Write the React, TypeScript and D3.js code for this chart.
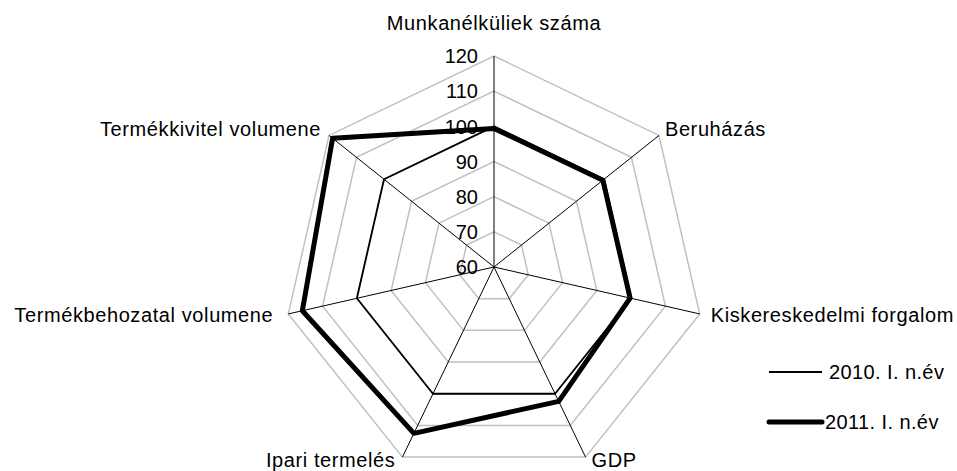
import React, { useEffect, useRef } from "react";
import * as d3 from "d3";

// axis names, clockwise from the top
const categories = [
  "Munkanélküliek száma",
  "Beruházás",
  "Kiskereskedelmi forgalom",
  "GDP",
  "Ipari termelés",
  "Termékbehozatal volumene",
  "Termékkivitel volumene",
];

const values2010 = [100, 100, 100, 100, 100, 100, 100];
const values2011 = [99.4, 99.6, 99.7, 102.4, 112.5, 115.9, 118.7];

const ticks = [60, 70, 80, 90, 100, 110, 120];

const seriesNames = ["2010. I. n.év", "2011. I. n.év"];

const App = () => {
  const ref = useRef<SVGSVGElement>(null);

  useEffect(() => {
    const width = 957;
    const height = 471;
    const cx = 494;
    const cy = 267;
    const radius = 211;
    const font = "'Liberation Sans', Arial, sans-serif";

    const svg = d3.select(ref.current);
    svg.selectAll("*").remove();
    svg.attr("width", width).attr("height", height);

    const g = svg.append("g").attr("transform", "translate(" + cx + "," + cy + ")");

    const r = d3.scaleLinear().domain([60, 120]).range([0, radius]);
    const angle = (i: number) => (i * 2 * Math.PI) / categories.length;

    // grid rings
    const ring = d3
      .lineRadial<number>()
      .angle((_, i) => angle(i))
      .radius((d) => r(d))
      .curve(d3.curveLinearClosed);

    g.selectAll("path.ring")
      .data(ticks.slice(1))
      .enter()
      .append("path")
      .attr("class", "ring")
      .attr("d", (t) => ring(categories.map(() => t)))
      .attr("fill", "none")
      .attr("stroke", "#c0c0c0")
      .attr("stroke-width", 1.5);

    // spokes
    g.selectAll("line.spoke")
      .data(categories)
      .enter()
      .append("line")
      .attr("x1", 0)
      .attr("y1", 0)
      .attr("x2", (_, i) => Math.sin(angle(i)) * r(120))
      .attr("y2", (_, i) => -Math.cos(angle(i)) * r(120))
      .attr("stroke", "#000")
      .attr("stroke-width", 1);

    // tick labels
    g.selectAll("text.tick")
      .data(ticks)
      .enter()
      .append("text")
      .attr("x", -16)
      .attr("y", (t) => -r(t))
      .attr("dy", "0.36em")
      .attr("text-anchor", "end")
      .style("font-family", font)
      .style("font-size", "20px")
      .text((t) => t);

    // series
    const line = d3
      .lineRadial<number>()
      .angle((_, i) => angle(i))
      .radius((d) => r(d))
      .curve(d3.curveLinearClosed);

    g.append("path")
      .attr("d", line(values2010))
      .attr("fill", "none")
      .attr("stroke", "#000")
      .attr("stroke-width", 1.8)
      .attr("stroke-linejoin", "round");

    g.append("path")
      .attr("d", line(values2011))
      .attr("fill", "none")
      .attr("stroke", "#000")
      .attr("stroke-width", 5)
      .attr("stroke-linejoin", "round");

    // category labels, nudged like Excel does
    const nudge = [
      [0, -33],
      [6, -7],
      [11, 1],
      [6, 3],
      [-7, 3],
      [-15, 1],
      [-8, -7],
    ];
    g.selectAll("text.cat")
      .data(categories)
      .enter()
      .append("text")
      .attr("x", (_, i) => Math.sin(angle(i)) * r(120) + nudge[i][0])
      .attr("y", (_, i) => -Math.cos(angle(i)) * r(120) + nudge[i][1])
      .attr("dy", "0.36em")
      .attr("text-anchor", (_, i) => {
        const s = Math.sin(angle(i));
        return s > 0.1 ? "start" : s < -0.1 ? "end" : "middle";
      })
      .style("font-family", font)
      .style("font-size", "20px")
      .style("letter-spacing", "0.6px")
      .text((d) => d);

    // legend
    const legend = svg.append("g");
    const widths = [1.8, 5];
    seriesNames.forEach((name, i) => {
      const y = 372 + i * 50;
      legend
        .append("line")
        .attr("x1", 769)
        .attr("x2", 822)
        .attr("y1", y)
        .attr("y2", y)
        .attr("stroke", "#000")
        .attr("stroke-width", widths[i])
        .attr("stroke-linecap", i === 1 ? "round" : "butt");
      legend
        .append("text")
        .attr("x", i === 1 ? 825 : 829)
        .attr("y", y)
        .attr("dy", "0.36em")
        .style("font-family", font)
        .style("font-size", "20px")
        .style("letter-spacing", "0.4px")
        .text(name);
    });
  }, []);

  return (
    <div>
      <svg ref={ref} style={{ position: "absolute", left: 0, top: 0 }}></svg>
    </div>
  );
};

export default App;
